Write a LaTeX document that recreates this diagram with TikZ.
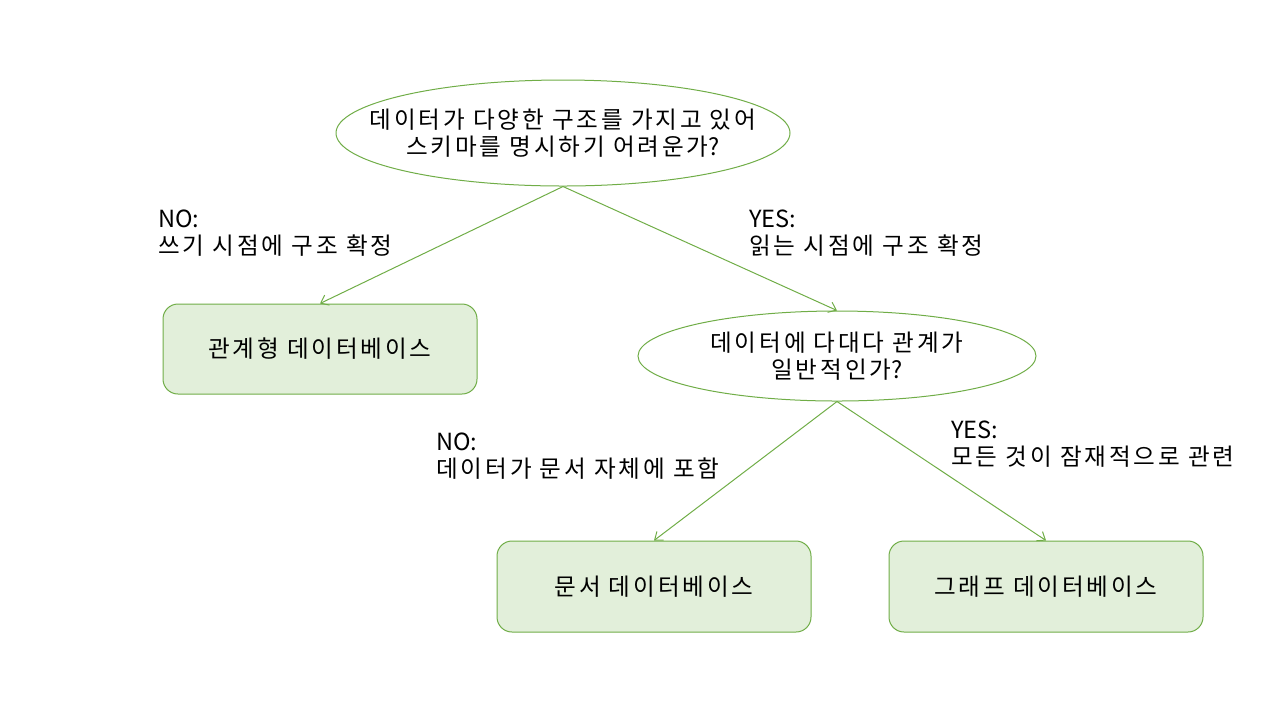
\documentclass[tikz,border=0pt]{standalone}
\usepackage{fontspec}
\setmainfont[LetterSpace=12]{Noto Sans CJK KR}
\newfontfamily\latfont{Noto Sans CJK KR}
\usetikzlibrary{shapes.geometric,arrows.meta}
\definecolor{gline}{HTML}{70AD47}
\definecolor{gfill}{HTML}{E2EFDA}
\tikzset{
  txt/.style={font=\fontsize{11.8}{13.5}\selectfont},
  question/.style={ellipse, draw=gline, line width=0.5pt, fill=white, inner sep=0pt},
  qtext/.style={inner sep=0pt, align=center, txt},
  dbbox/.style={rectangle, rounded corners=7.5pt, draw=gline, line width=0.5pt, fill=gfill, align=center, txt},
  edgelabel/.style={inner sep=0pt, align=left, anchor=west, txt},
  conn/.style={draw=gline, line width=0.5pt, -{Straight Barb[length=3.5pt,width=5.5pt,line width=0.5pt]}}
}
\begin{document}
\begin{tikzpicture}[x=0.5pt,y=-0.5pt]
\useasboundingbox (0,0) rectangle (1280,720);
\node[question, minimum width=227pt, minimum height=53pt] (q1) at (563,133) {};
\node[qtext] (q1t) at (q1.center) {데이터가 다양한 구조를 가지고 있어\\스키마를 명시하기 어려운가{\latfont ?}};
\node[question, minimum width=199pt, minimum height=45pt] (q2) at (837,356) {};
\node[qtext] (q2t) at (q2.center) {데이터에 다대다 관계가\\일반적인가{\latfont ?}};
\node[dbbox, minimum width=157pt, minimum height=45pt] (rel) at (320,349) {관계형 데이터베이스};
\node[dbbox, minimum width=157pt, minimum height=45.5pt] (doc) at (654,586.5) {문서 데이터베이스};
\node[dbbox, minimum width=157pt, minimum height=45.5pt] (graph) at (1046,586.5) {그래프 데이터베이스};
\draw[conn] (q1.south) -- (rel.north);
\draw[conn] (q1.south) -- (q2.north);
\draw[conn] (q2.south) -- (doc.north);
\draw[conn] (q2.south) -- (graph.north);
\node[edgelabel] (l1) at (158,233) {{\latfont NO:}\\쓰기 시점에 구조 확정};
\node[edgelabel] (l2) at (749,233) {{\latfont YES:}\\읽는 시점에 구조 확정};
\node[edgelabel] (l3) at (436,456) {{\latfont NO:}\\데이터가 문서 자체에 포함};
\node[edgelabel] (l4) at (951,444) {{\latfont YES:}\\모든 것이 잠재적으로 관련};
\end{tikzpicture}
\end{document}
